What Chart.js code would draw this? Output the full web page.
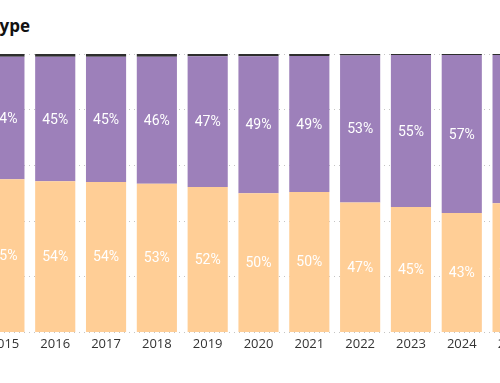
<!DOCTYPE html>
<html>
<head>
<meta charset="utf-8">
<script src="https://cdn.jsdelivr.net/npm/chart.js@4.4.0/dist/chart.umd.min.js"></script>
<style>
  html, body { margin: 0; padding: 0; background: #fff; overflow: hidden; }
  #wrap { position: relative; width: 500px; height: 383px; overflow: hidden; }
  #title { position: absolute; right: 470px; top: 14px; font: bold 17px "Segoe UI", "Open Sans", sans-serif; color: #111; white-space: nowrap; }
  #box { position: absolute; left: -21px; top: 0; width: 559px; height: 383px; }
</style>
</head>
<body>
<div id="wrap">
  <div id="title">Share by Type</div>
  <div id="box"><canvas id="stack"></canvas></div>
</div>
<script>
const years = ['2015', '2016', '2017', '2018', '2019', '2020', '2021', '2022', '2023', '2024', '2025'];
const orangeShare = [55.0, 54.3, 54.0, 53.4, 52.2, 50.0, 50.4, 46.7, 45.0, 42.9, 46.4];
const purpleShare = [44.0, 44.7, 45.0, 45.6, 47.0, 49.2, 48.9, 52.8, 54.6, 56.7, 53.2];
const otherShare = [1.0, 1.0, 1.0, 1.0, 0.8, 0.8, 0.7, 0.5, 0.4, 0.4, 0.4];
const yTicks = [0, 20, 40, 60, 80, 100];

const ctx = document.getElementById('stack');

// white percent labels in the middle of each big segment
const segLabels = {
    id: 'segLabels',
    afterDatasetsDraw(chart) {
        const c = chart.ctx;
        c.save();
        c.font = '14px Roboto, "DejaVu Sans", sans-serif';
        c.fillStyle = '#ffffff';
        c.textAlign = 'center';
        c.textBaseline = 'middle';
        [0, 1].forEach(i => {
            const meta = chart.getDatasetMeta(i);
            meta.data.forEach((bar, j) => {
                const v = chart.data.datasets[i].data[j];
                c.fillText(Math.round(v) + '%', bar.x, (bar.y + bar.base) / 2 + 1);
            });
        });
        c.restore();
    }
};

new Chart(ctx, {
    type: 'bar',
    data: {
        labels: years,
        datasets: [{
            label: 'A',
            data: orangeShare,
            backgroundColor: '#FFCE96'
        }, {
            label: 'B',
            data: purpleShare,
            backgroundColor: '#9D80BA'
        }, {
            label: 'Other',
            data: otherShare,
            backgroundColor: '#2e2e2e'
        }]
    },
    options: {
        responsive: true,
        maintainAspectRatio: false,
        animation: false,
        barPercentage: 1,
        categoryPercentage: 0.79,
        layout: { padding: { top: 54, bottom: 35, left: 0, right: 0 } },
        plugins: {
            legend: { display: false },
            tooltip: { enabled: false }
        },
        scales: {
            x: {
                stacked: true,
                grid: { display: false },
                border: { display: false },
                ticks: {
                    color: '#333',
                    padding: -4,
                    font: { family: '"Segoe UI", "Open Sans", sans-serif', size: 13 }
                }
            },
            y: {
                stacked: true,
                min: 0,
                max: 100,
                afterBuildTicks: axis => { axis.ticks = yTicks.map(v => ({ value: v })); },
                ticks: { display: false },
                border: { display: false, dash: [1, 4] },
                grid: {
                    color: '#c4c4c4',
                    lineWidth: 1,
                    drawTicks: false
                }
            }
        }
    },
    plugins: [segLabels]
});
</script>
</body>
</html>
